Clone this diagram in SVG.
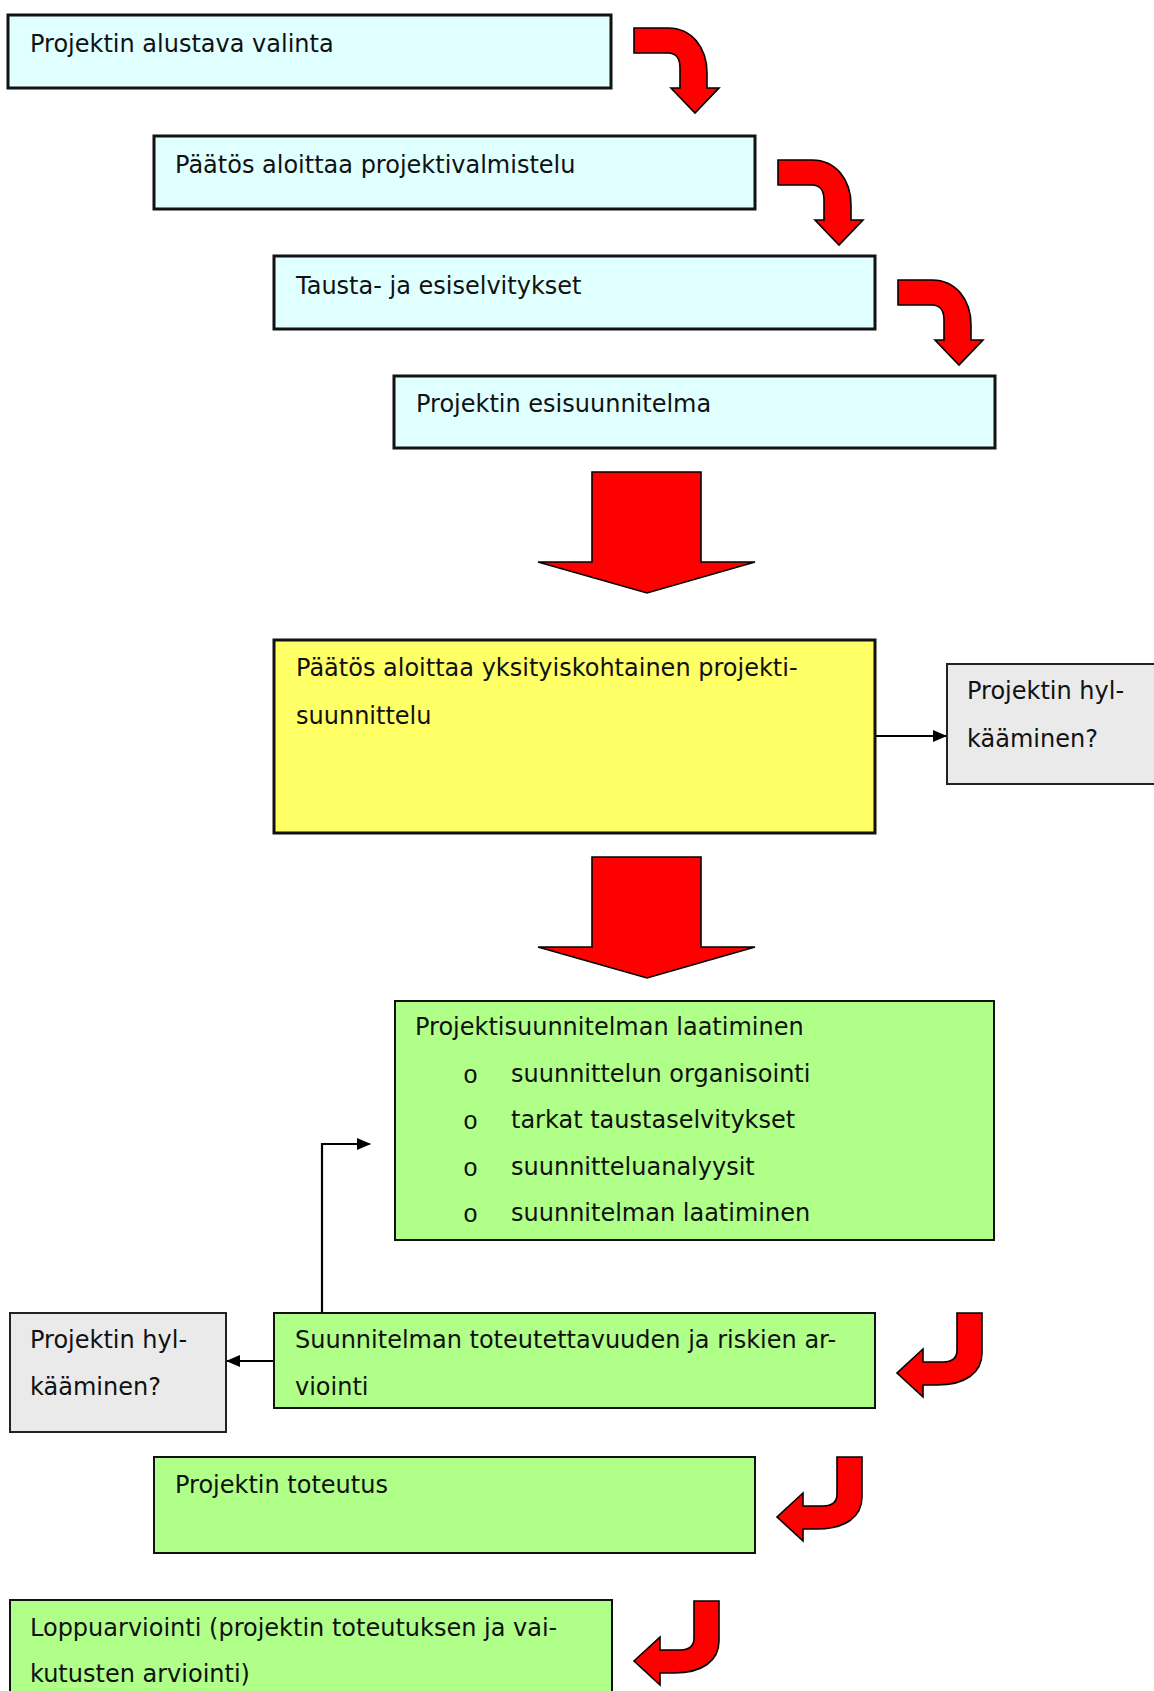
<svg xmlns="http://www.w3.org/2000/svg" width="1154" height="1691" viewBox="0 0 1154 1691">
<defs>
<style>
text{font-family:"DejaVu Sans","Liberation Sans",sans-serif;font-size:24px;fill:#111}
.bul{font-family:"Liberation Mono","DejaVu Sans Mono",monospace;font-size:25px}
.cyan{fill:#E0FFFF;stroke:#111;stroke-width:3}
.yellow{fill:#FFFF66;stroke:#111;stroke-width:3}
.green{fill:#B0FF88;stroke:#111;stroke-width:2}
.gray{fill:#EAEAEA;stroke:#222;stroke-width:2}
.red{fill:#FF0000;stroke:#000;stroke-width:1.6;stroke-linejoin:miter}
.conn{fill:none;stroke:#000;stroke-width:2.2}
</style>
<marker id="ah" markerWidth="14" markerHeight="12" refX="13" refY="6" orient="auto" markerUnits="userSpaceOnUse">
<path d="M0,0 L14,6 L0,12 Z" fill="#000"/>
</marker>
<path id="curveRD" d="M0,0 L34,0 C58,0 73,20 73,45 L73,60 L85,60 L61,85 L37,60 L46,60 L46,40 C46,30 42,25 34,25 L0,25 Z"/>
<path id="curveDL" d="M0,0 L25,0 L25,40 C25,60 8,72 -20,72 L-34,72 L-34,84 L-60,60 L-34,36 L-34,49 L-14,49 C-5,49 0,45 0,37 Z"/>
<path id="bigDown" d="M592,472 L701,472 L701,562 L755,562 L647,593 L538,562 L592,562 Z"/>
</defs>
<rect width="1154" height="1691" fill="#fff"/>

<g id="n1"><rect class="cyan" x="8" y="15" width="603" height="73"/><text x="30" y="52">Projektin alustava valinta</text></g>
<g id="n2"><rect class="cyan" x="154" y="136" width="601" height="73"/><text x="175" y="173">Päätös aloittaa projektivalmistelu</text></g>
<g id="n3"><rect class="cyan" x="274" y="256" width="601" height="73"/><text x="296" y="294">Tausta- ja esiselvitykset</text></g>
<g id="n4"><rect class="cyan" x="394" y="376" width="601" height="72"/><text x="416" y="412">Projektin esisuunnitelma</text></g>

<g id="n5"><rect class="yellow" x="274" y="640" width="601" height="193"/><text x="296" y="676">Päätös aloittaa yksityiskohtainen projekti-</text><text x="296" y="724">suunnittelu</text></g>
<g id="n6"><rect class="gray" x="947" y="664" width="260" height="120"/><text x="967" y="699">Projektin hyl-</text><text x="967" y="747">kääminen?</text></g>

<g id="n7"><rect class="green" x="395" y="1001" width="599" height="239"/>
<text x="415" y="1035">Projektisuunnitelman laatiminen</text>
<text class="bul" x="463" y="1083">o</text><text x="511" y="1082">suunnittelun organisointi</text>
<text class="bul" x="463" y="1129">o</text><text x="511" y="1128">tarkat taustaselvitykset</text>
<text class="bul" x="463" y="1176">o</text><text x="511" y="1175">suunnitteluanalyysit</text>
<text class="bul" x="463" y="1222">o</text><text x="511" y="1221">suunnitelman laatiminen</text>
</g>
<g id="n8"><rect class="green" x="274" y="1313" width="601" height="95"/><text x="295" y="1348">Suunnitelman toteutettavuuden ja riskien ar-</text><text x="295" y="1395">viointi</text></g>
<g id="n9"><rect class="gray" x="10" y="1313" width="216" height="119"/><text x="30" y="1348">Projektin hyl-</text><text x="30" y="1395">kääminen?</text></g>
<g id="n10"><rect class="green" x="154" y="1457" width="601" height="96"/><text x="175" y="1493">Projektin toteutus</text></g>
<g id="n11"><rect class="green" x="10" y="1600" width="602" height="150"/><text x="30" y="1636">Loppuarviointi (projektin toteutuksen ja vai-</text><text x="30" y="1682">kutusten arviointi)</text></g>

<g id="connectors">
<use href="#curveRD" class="red" x="634" y="28"/>
<use href="#curveRD" class="red" x="778" y="160"/>
<use href="#curveRD" class="red" x="898" y="280"/>
<use href="#bigDown" class="red"/>
<use href="#bigDown" class="red" y="385"/>
<use href="#curveDL" class="red" x="957" y="1313"/>
<use href="#curveDL" class="red" x="837" y="1457"/>
<use href="#curveDL" class="red" x="694" y="1601"/>
<path class="conn" d="M876,736 L946,736" marker-end="url(#ah)"/>
<path class="conn" d="M322,1312 L322,1144 L370,1144" marker-end="url(#ah)"/>
<path class="conn" d="M273,1361 L227,1361" marker-end="url(#ah)"/>
</g>
</svg>
